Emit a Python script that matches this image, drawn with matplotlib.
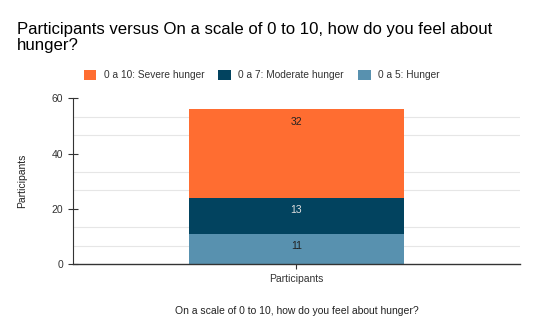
import matplotlib.pyplot as plt
import numpy as np

plt.rcParams['font.family'] = ['Liberation Sans', 'DejaVu Sans']

categories = ["Participants"]
series_names = ["0 a 5: Hunger", "0 a 7: Moderate hunger", "0 a 10: Severe hunger"]
series_values = [[11], [13], [32]]
colors = ["#5891af", "#02435f", "#ff6d31"]
label_colors = ["#222222", "#e0e0e0", "#222222"]
legend_order = [2, 1, 0]

fig = plt.figure(figsize=(5.37, 3.32), dpi=100)
ax = fig.add_axes([0.136, 0.204, 0.832, 0.500])

x = np.arange(len(categories))
bottom = np.zeros(len(categories))
bars = []
for name, vals, col, lcol in zip(series_names, series_values, colors, label_colors):
    b = ax.bar(x, vals, 0.48, bottom=bottom, color=col, label=name, zorder=2)
    bars.append(b)
    for rect, v in zip(b, vals):
        ax.annotate(str(v), (rect.get_x() + rect.get_width() / 2, rect.get_y() + rect.get_height()),
                    xytext=(0, -9), textcoords="offset points", ha="center", va="center",
                    fontsize=7.5, color=lcol, zorder=3)
    bottom += np.array(vals)

ax.set_xlim(-0.5, 0.5)
ax.set_ylim(0, 60)
ax.set_yticks([0, 20, 40, 60])
# light gridlines only between the labelled ticks (three steps per 20)
minor = [v for v in np.arange(0, 61, 20 / 3) if abs(v % 20) > 1e-6 and abs(v % 20 - 20) > 1e-6]
ax.set_yticks(minor, minor=True)
ax.yaxis.grid(True, which="minor", color="#e6e6e6", linewidth=0.8, zorder=0)
ax.tick_params(axis="y", which="minor", length=0)
ax.tick_params(axis="both", which="major", direction="inout", length=7, width=0.8,
               color="#333333", labelsize=7.5, labelcolor="#333333")
ax.set_xticks(x)
ax.set_xticklabels(categories)

for s in ["top", "right"]:
    ax.spines[s].set_visible(False)
ax.spines["left"].set_color("#333333")
ax.spines["bottom"].set_color("#333333")
ax.spines["bottom"].set_linewidth(1.0)

ax.set_ylabel("Participants", fontsize=7.5, color="#222222", labelpad=18)
ax.set_xlabel("On a scale of 0 to 10, how do you feel about hunger?", fontsize=7.5,
              color="#222222", labelpad=16)

fig.text(0.032, 0.935, "Participants versus On a scale of 0 to 10, how do you feel about\nhunger?",
         fontsize=12.1, ha="left", va="top", linespacing=1.1, color="#000000")

handles = [bars[i] for i in legend_order]
labels = [series_names[i] for i in legend_order]
fig.legend(handles, labels, loc="center", bbox_to_anchor=(0.487, 0.774), ncol=3, frameon=False,
           fontsize=7.3, handlelength=1.25, handleheight=1.25, handletextpad=0.7, columnspacing=1.4,
           labelcolor="#333333")

fig.savefig("out.png", dpi=100)
